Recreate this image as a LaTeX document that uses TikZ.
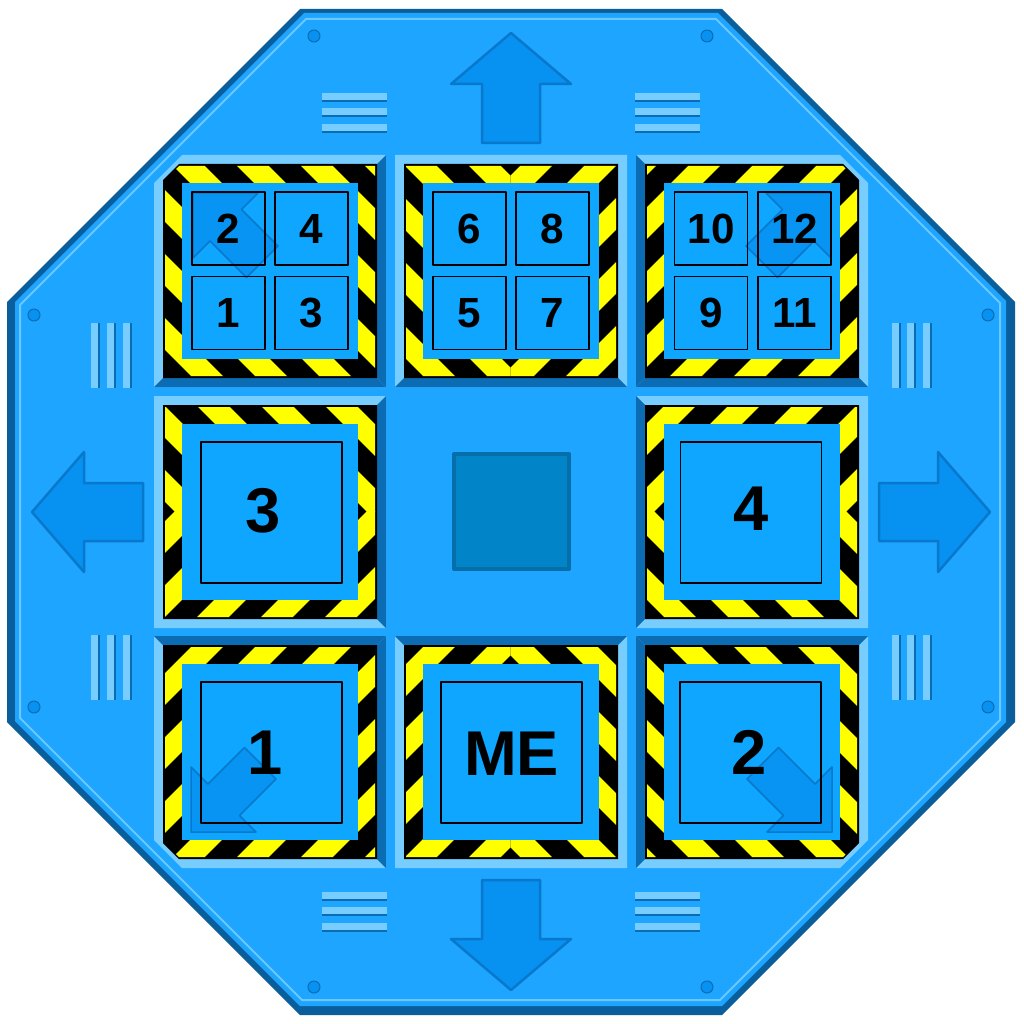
\documentclass[tikz,border=0pt]{standalone}
\usepackage{fontspec}
\setmainfont{Liberation Sans}

\definecolor{plate}{HTML}{1DA5FF}
\definecolor{platedark}{HTML}{0A5E9C}
\definecolor{plateline}{HTML}{6CC8FF}
\definecolor{rimlight}{HTML}{78CDFF}
\definecolor{rimdark}{HTML}{0B6CB4}
\definecolor{panel}{HTML}{0EA6FF}
\definecolor{arrowblue}{HTML}{0792F2}
\definecolor{arrowedge}{HTML}{0878CC}
\definecolor{hub}{HTML}{0284C8}
\definecolor{hubedge}{HTML}{066FAA}
\definecolor{hazard}{HTML}{FFFF00}

% square around (#1,#2), half side #3, corner cuts tl tr br bl
\newcommand{\cutsq}[7]{(#1-#3+#4,#2-#3) -- (#1+#3-#5,#2-#3) -- (#1+#3,#2-#3+#5) -- (#1+#3,#2+#3-#6) -- (#1+#3-#6,#2+#3) -- (#1-#3+#7,#2+#3) -- (#1-#3,#2+#3-#7) -- (#1-#3,#2-#3+#4) -- cycle}

% mirrored hazard stripes round the plate centre, #1 = phase
\newcommand{\hazardstripes}[1]{%
  \foreach \qx/\qy in {1/1,1/-1,-1/1,-1/-1} {
    \begin{scope}[shift={(510.5,511.5)},xscale=\qx,yscale=\qy]
      \clip (0,0) rectangle (520,520);
      \foreach \k in {-9,...,9}
        \draw[stripe] (#1+64*\k-600,-600) -- (#1+64*\k+600,600);
    \end{scope}}}

% corner arrow, tip at the origin
\newcommand{\cornerarrow}{(0,0) -- (65,0) -- (48.5,-16.5) -- (85,-53) -- (53.5,-84.5) -- (17,-48) -- (0,-65) -- cycle}

\begin{document}
\begin{tikzpicture}[x=0.1mm,y=-0.1mm,line join=round,
    stripe/.style={hazard,line width=2.26mm},
    vent/.style={fill=rimlight},
    ventedge/.style={rimdark,line width=0.12mm},
    bigarrow/.style={fill=arrowblue,draw=arrowedge,line width=0.25mm},
    cornerpointer/.style={fill=arrowblue,draw=arrowedge,line width=0.15mm,fill opacity=0.85},
    tile/.style={draw=black,line width=0.16mm,inner sep=0pt},
    smalltile/.style={tile,minimum size=7.3mm,font=\fontsize{12}{12}\selectfont\bfseries},
    bigtile/.style={tile,minimum size=14.1mm},
    bignum/.style={inner sep=0pt,font=\fontsize{18}{18}\selectfont\bfseries}]
  \useasboundingbox (0,0) rectangle (1024,1024);

  % plate
  \fill[platedark] (7,302) -- (300,9) -- (722,9) -- (1015,302) -- (1015,722) -- (722,1015) -- (300,1015) -- (7,722) -- cycle;
  \fill[plate] (15,302) -- (304,13) -- (718,13) -- (1006,301) -- (1006,722) -- (722,1006) -- (300,1006) -- (15,721) -- cycle;
  \draw[plateline,line width=0.2mm] (20,305) -- (306,19) -- (716,19) -- (1000,303) -- (1000,720) -- (720,1000) -- (302,1000) -- (20,718) -- cycle;

  % screws
  \foreach \sx/\sy in {314/36,707/36,34/315,988/315,34/707,988/707,314/987,707/987}
    \filldraw[fill=arrowblue,draw=rimdark,line width=0.1mm] (\sx,\sy) circle (6);

  % vents
  \foreach \vx in {322,635}
    \foreach \vy in {93,108,124,892,907,923} {
      \fill[vent] (\vx,\vy) rectangle ++(65,8);
      \draw[ventedge] (\vx,\vy+8) -- ++(65,0);
    }
  \foreach \vy in {323,635}
    \foreach \vx in {91,107,123,892,907,923} {
      \fill[vent] (\vx,\vy) rectangle ++(8,65);
      \draw[ventedge] (\vx+8,\vy) -- ++(0,65);
    }

  % big arrows
  \filldraw[bigarrow] (511,33) -- (571,84) -- (540,84) -- (540,143) -- (482,143) -- (482,84) -- (451,84) -- cycle;
  \filldraw[bigarrow] (511,990) -- (571,939) -- (540,939) -- (540,880) -- (482,880) -- (482,939) -- (451,939) -- cycle;
  \filldraw[bigarrow] (32,512) -- (84,452) -- (84,483) -- (143,483) -- (143,541) -- (84,541) -- (84,572) -- cycle;
  \filldraw[bigarrow] (990,512) -- (938,452) -- (938,483) -- (879,483) -- (879,541) -- (938,541) -- (938,572) -- cycle;

  % cell wells and frames
  \foreach \cx/\cy/\tl/\tr/\br/\bl in {270/271/1/0/0/0,511/271/0/0/0/0,752/271/0/1/0/0,270/512/0/0/0/0,752/512/0/0/0/0,270/752/0/0/0/1,511/752/0/0/0/0,752/752/0/0/1/0}
    \fill[rimlight] \cutsq{\cx}{\cy}{116}{28*\tl}{28*\tr}{28*\br}{28*\bl};
  \foreach \cx/\cy/\rot in {270/271/0,270/271/90,511/271/0,752/271/0,752/271/270,270/512/90,752/512/270,270/752/90,270/752/180,511/752/180,752/752/180,752/752/270}
    \fill[rimdark,shift={(\cx,\cy)},rotate=\rot] (-107,107) -- (-116,116) -- (116,116) -- (107,107) -- cycle;
  \foreach \cx/\cy/\tl/\tr/\br/\bl in {270/271/1/0/0/0,511/271/0/0/0/0,752/271/0/1/0/0,270/512/0/0/0/0,752/512/0/0/0/0,270/752/0/0/0/1,511/752/0/0/0/0,752/752/0/0/1/0}
    \fill[black] \cutsq{\cx}{\cy}{107}{16*\tl}{16*\tr}{16*\br}{16*\bl};

  % hazard stripes
  \begin{scope}
    \clip \cutsq{270}{271}{105}{14}{0}{0}{0} \cutsq{752}{271}{105}{0}{14}{0}{0}
          \cutsq{270}{752}{105}{0}{0}{0}{14} \cutsq{752}{752}{105}{0}{0}{14}{0};
    \hazardstripes{40}
  \end{scope}
  \begin{scope}
    \clip \cutsq{511}{271}{105}{0}{0}{0}{0} \cutsq{270}{512}{105}{0}{0}{0}{0}
          \cutsq{752}{512}{105}{0}{0}{0}{0} \cutsq{511}{752}{105}{0}{0}{0}{0};
    \hazardstripes{0}
  \end{scope}

  % panels
  \foreach \cx/\cy in {270/271,511/271,752/271,270/512,752/512,270/752,511/752,752/752}
    \fill[panel] (\cx-88,\cy-88) rectangle (\cx+88,\cy+88);

  % centre hub
  \filldraw[fill=hub,draw=hubedge,line width=0.4mm] (454,454) rectangle (569,569);

  % corner pointers
  \filldraw[cornerpointer,shift={(193,193)},yscale=-1] \cornerarrow;
  \filldraw[cornerpointer,shift={(831,193)},xscale=-1,yscale=-1] \cornerarrow;
  \filldraw[cornerpointer,shift={(191,832)}] \cornerarrow;
  \filldraw[cornerpointer,shift={(832,832)},xscale=-1] \cornerarrow;

  % small tiles
  \node[smalltile] (t2) at (228.5,228.5) {2};
  \node[smalltile] (t4) at (311.5,228.5) {4};
  \node[smalltile] (t1) at (228.5,313) {1};
  \node[smalltile] (t3) at (311.5,313) {3};
  \node[smalltile] (t6) at (469.5,228.5) {6};
  \node[smalltile] (t8) at (552.5,228.5) {8};
  \node[smalltile] (t5) at (469.5,313) {5};
  \node[smalltile] (t7) at (552.5,313) {7};
  \node[smalltile] (t10) at (711,228.5) {10};
  \node[smalltile] (t12) at (794.5,228.5) {12};
  \node[smalltile] (t9) at (711,313) {9};
  \node[smalltile] (t11) at (794.5,313) {11};

  % big tiles
  \node[bigtile] (sq3) at (271.5,512.5) {};
  \node[bigtile] (sq4) at (751,512.5) {};
  \node[bigtile] (sq1) at (271.5,752.5) {};
  \node[bigtile] (sqme) at (511.5,752.5) {};
  \node[bigtile] (sq2) at (750.5,752.5) {};
  \node[bignum] (n3) at (263,511) {3};
  \node[bignum] (n4) at (751,509) {4};
  \node[bignum] (n1) at (265,752.5) {1};
  \node[bignum] (nme) at (511.5,753.5) {ME};
  \node[bignum] (n2) at (749.5,752.5) {2};
\end{tikzpicture}
\end{document}
